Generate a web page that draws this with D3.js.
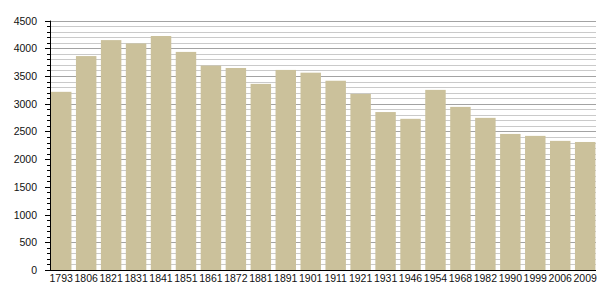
<!DOCTYPE html>
<html lang="en">
<head>
<meta charset="utf-8">
<title>Population</title>
<script src="https://d3js.org/d3.v7.min.js"></script>
<style>
  body { margin: 0; background: #fff; }
  svg text { font-family: "Liberation Sans", Arial, sans-serif; font-size: 10.5px; fill: #111; }
</style>
</head>
<body>
<svg id="chart" width="605" height="300"></svg>
<script>
var years = ['1793','1806','1821','1831','1841','1851','1861','1872','1881','1891','1901',
             '1911','1921','1931','1946','1954','1968','1982','1990','1999','2006','2009'];
var population = [3215, 3860, 4148, 4088, 4222, 3935, 3688, 3645, 3358, 3610, 3560,
                  3415, 3178, 2850, 2728, 3250, 2943, 2745, 2455, 2420, 2330, 2310];
var yTicks = [0, 500, 1000, 1500, 2000, 2500, 3000, 3500, 4000, 4500];

(function () {
  var left = 50, right = 596, top = 20.6, bottom = 270;

  var svg = d3.select('#chart');

  var x = d3.scaleBand()
    .domain(years)
    .range([46.5, 599.9])
    .paddingInner(0.18)
    .paddingOuter(0.18);

  var y = d3.scaleLinear().domain([0, 4500]).range([bottom, top]);

  // gridlines every 100, darker every 500
  var minor = d3.range(100, 4501, 100);
  svg.append('g').selectAll('line')
    .data(minor)
    .enter().append('line')
    .attr('x1', left).attr('x2', right)
    .attr('y1', function(d) { return Math.round(y(d)) + 0.5; })
    .attr('y2', function(d) { return Math.round(y(d)) + 0.5; })
    .attr('stroke', function(d) { return d % 500 === 0 ? '#a3a3a3' : '#cacaca'; })
    .attr('stroke-width', 1);

  svg.append('g').selectAll('rect')
    .data(population)
    .enter().append('rect')
    .attr('x', function(d, i) { return x(years[i]); })
    .attr('width', x.bandwidth())
    .attr('y', function(d) { return y(d); })
    .attr('height', function(d) { return bottom - y(d); })
    .attr('fill', '#cbc19b');

  // y axis with minor ticks
  var ax = svg.append('g');
  ax.append('line')
    .attr('x1', left + 0.5).attr('x2', left + 0.5)
    .attr('y1', top).attr('y2', bottom)
    .attr('stroke', '#000');
  ax.selectAll('line.tk')
    .data(d3.range(0, 4501, 100))
    .enter().append('line')
    .attr('class', 'tk')
    .attr('x1', function(d) { return d % 500 === 0 ? left - 5 : left - 3; })
    .attr('x2', left)
    .attr('y1', function(d) { return Math.round(y(d)) + 0.5; })
    .attr('y2', function(d) { return Math.round(y(d)) + 0.5; })
    .attr('stroke', '#000');
  ax.selectAll('text')
    .data(yTicks)
    .enter().append('text')
    .attr('x', left - 13)
    .attr('y', function(d) { return y(d) + 4; })
    .attr('text-anchor', 'end')
    .text(function(d) { return d; });

  // x axis
  svg.append('line')
    .attr('x1', left - 5).attr('x2', right)
    .attr('y1', bottom + 0.5).attr('y2', bottom + 0.5)
    .attr('stroke', '#000');
  svg.append('g').selectAll('text')
    .data(years)
    .enter().append('text')
    .attr('x', function(d) { return x(d) + x.bandwidth() / 2; })
    .attr('y', bottom + 12)
    .attr('text-anchor', 'middle')
    .text(function(d) { return d; });
})();
</script>
</body>
</html>
